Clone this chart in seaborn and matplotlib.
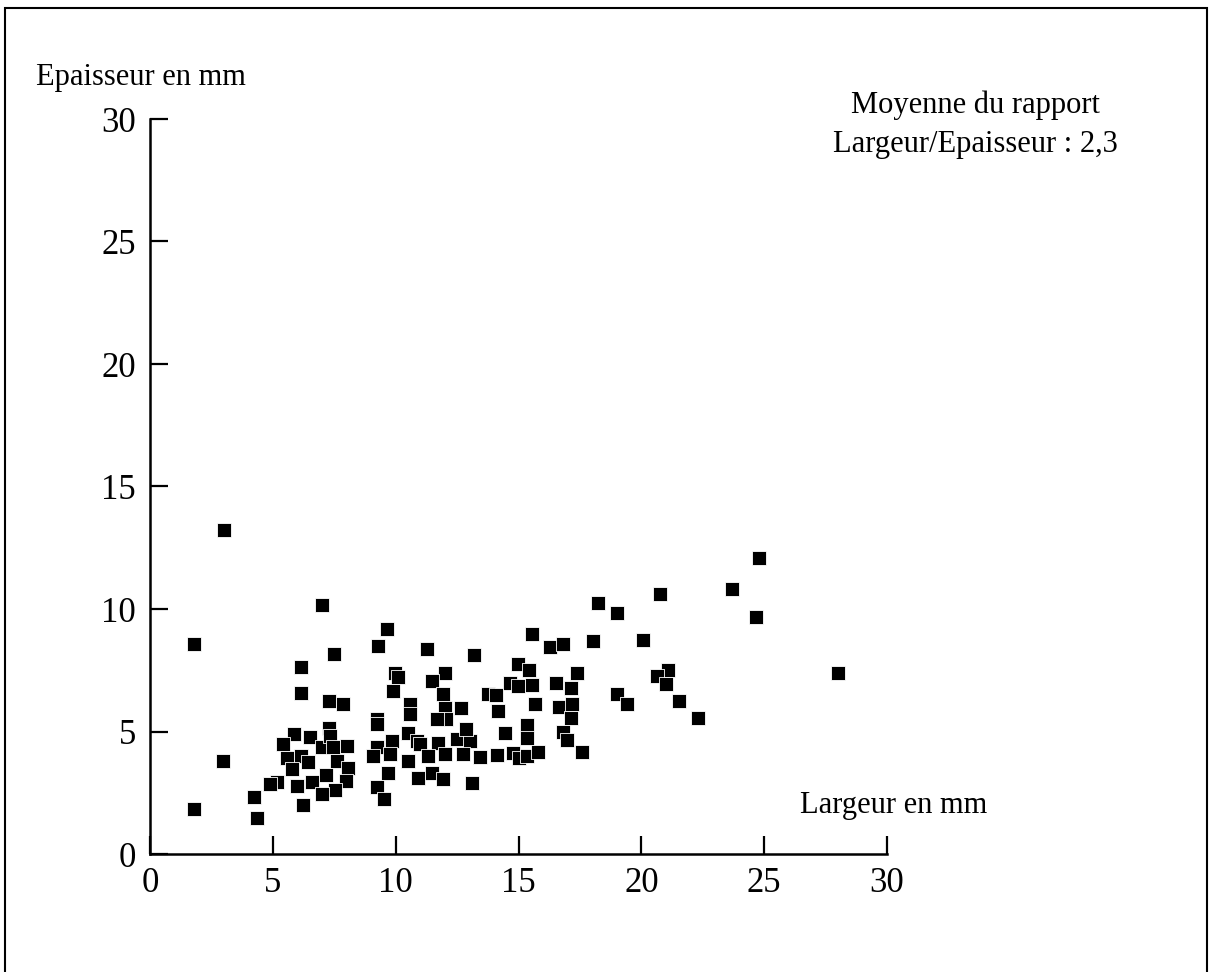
import matplotlib
matplotlib.use("Agg")
import matplotlib.pyplot as plt
from matplotlib.patches import Rectangle
import seaborn as sns
import pandas as pd

# Largeur (mm) and Epaisseur (mm)
largeur = [3.01, 1.79, 7.00, 2.97, 1.79, 4.23, 4.35,
           7.49, 6.15, 6.15, 7.29, 7.86, 7.29, 5.86, 6.51, 5.41, 7.00, 7.33, 7.45, 8.02,
           6.15, 5.58, 6.43, 7.61, 8.06, 5.78, 7.16, 5.17, 6.59, 7.98, 5.98, 7.53, 7.00,
           4.88, 6.23,
           9.65, 9.28, 9.97, 10.09, 9.89, 9.24, 9.24, 9.85, 9.24, 9.77, 9.69, 9.24, 9.52, 9.08,
           11.27, 13.19, 12.01, 11.48, 11.93, 10.58, 10.58, 12.01, 12.66, 12.05, 11.68,
           10.50, 10.87, 11.72, 12.49, 13.02, 12.86, 10.99, 10.50, 11.31, 12.01, 12.74,
           13.43, 10.91, 11.48, 11.93, 13.11,
           13.76, 14.08, 14.16, 14.98, 15.43, 14.65, 14.98, 15.55, 16.52, 17.38, 17.13,
           15.67, 16.65, 17.18, 17.13, 14.45, 15.34, 15.34, 16.81, 16.97, 17.58, 14.12,
           14.77, 15.02, 15.34, 15.79, 15.55, 16.28, 16.81,
           18.03, 18.23, 19.01, 20.07, 20.76, 21.08, 20.64, 21.00, 19.01, 19.41, 21.53,
           22.30, 23.69, 24.66, 24.79, 28.00]
epaisseur = [13.24, 8.58, 10.18, 3.80, 1.84, 2.33, 1.47,
             8.17, 7.64, 6.58, 6.25, 6.13, 5.15, 4.90, 4.78, 4.50, 4.37, 4.82, 4.37, 4.41,
             4.00, 3.92, 3.76, 3.80, 3.51, 3.47, 3.23, 2.94, 2.94, 2.98, 2.78, 2.62, 2.45,
             2.86, 2.00,
             9.19, 8.50, 7.40, 7.23, 6.66, 5.52, 5.31, 4.62, 4.37, 4.09, 3.31, 2.74, 2.25, 4.00,
             8.38, 8.13, 7.40, 7.07, 6.54, 6.13, 5.72, 5.97, 5.97, 5.52, 5.52,
             4.94, 4.62, 4.54, 4.70, 4.62, 5.11, 4.50, 3.80, 4.00, 4.09, 4.09,
             3.96, 3.11, 3.31, 3.07, 2.90,
             6.54, 6.50, 5.84, 7.76, 7.52, 6.99, 6.87, 6.91, 6.99, 7.40, 6.78,
             6.13, 6.01, 6.13, 5.56, 4.94, 5.27, 4.74, 4.99, 4.66, 4.17, 4.05,
             4.13, 3.92, 4.00, 4.17, 8.99, 8.46, 8.58,
             8.70, 10.26, 9.85, 8.75, 10.63, 7.52, 7.27, 6.95, 6.54, 6.13, 6.25,
             5.56, 10.83, 9.69, 12.10, 7.40]

x_ticks = [0, 5, 10, 15, 20, 25, 30]
y_ticks = [0, 5, 10, 15, 20, 25, 30]

sns.set_style("ticks")
plt.rcParams["font.family"] = ["Liberation Serif", "DejaVu Serif"]
plt.rcParams["text.color"] = "black"
plt.rcParams["axes.labelcolor"] = "black"

df = pd.DataFrame({"Largeur": largeur, "Epaisseur": epaisseur})

fig = plt.figure(figsize=(12.11, 9.72), dpi=100)
ax = fig.add_axes([150 / 1211, 1 - 854 / 972, (887 - 150) / 1211, (854 - 119) / 972])

sns.scatterplot(data=df, x="Largeur", y="Epaisseur", marker="s", s=115,
                color="black", edgecolor="white", linewidth=0.6, ax=ax,
                clip_on=False, zorder=3)

ax.set_xlim(0, 30)
ax.set_ylim(0, 30)
ax.set_xticks(x_ticks)
ax.set_yticks(y_ticks)
ax.set_xticklabels([str(t) for t in x_ticks])
ax.set_yticklabels([str(t) for t in y_ticks])
ax.set_xlabel("")
ax.set_ylabel("")
for side in ["top", "right"]:
    ax.spines[side].set_visible(False)
for side in ["left", "bottom"]:
    ax.spines[side].set_linewidth(1.8)
    ax.spines[side].set_color("black")
ax.tick_params(axis="both", direction="in", length=13, width=1.6,
               labelsize=25, colors="black", labelcolor="black")
ax.tick_params(axis="x", pad=9)
ax.tick_params(axis="y", pad=10)

fig.text(36 / 1211, 1 - 85 / 972, "Epaisseur en mm", fontsize=22,
         ha="left", va="baseline", color="black")
fig.text(800 / 1211, 1 - 813 / 972, "Largeur en mm", fontsize=22,
         ha="left", va="baseline", color="black")
fig.text(975 / 1211, 1 - 113 / 972, "Moyenne du rapport", fontsize=22,
         ha="center", va="baseline", color="black")
fig.text(975 / 1211, 1 - 152 / 972, "Largeur/Epaisseur : 2,3", fontsize=22,
         ha="center", va="baseline", color="black")

fig.patches.append(Rectangle((5 / 1211, -0.02), (1207 - 5) / 1211, 1 - 8 / 972 + 0.02,
                             transform=fig.transFigure, fill=False,
                             edgecolor="black", linewidth=1.5))

fig.savefig("out.png", dpi=100, facecolor="white")
